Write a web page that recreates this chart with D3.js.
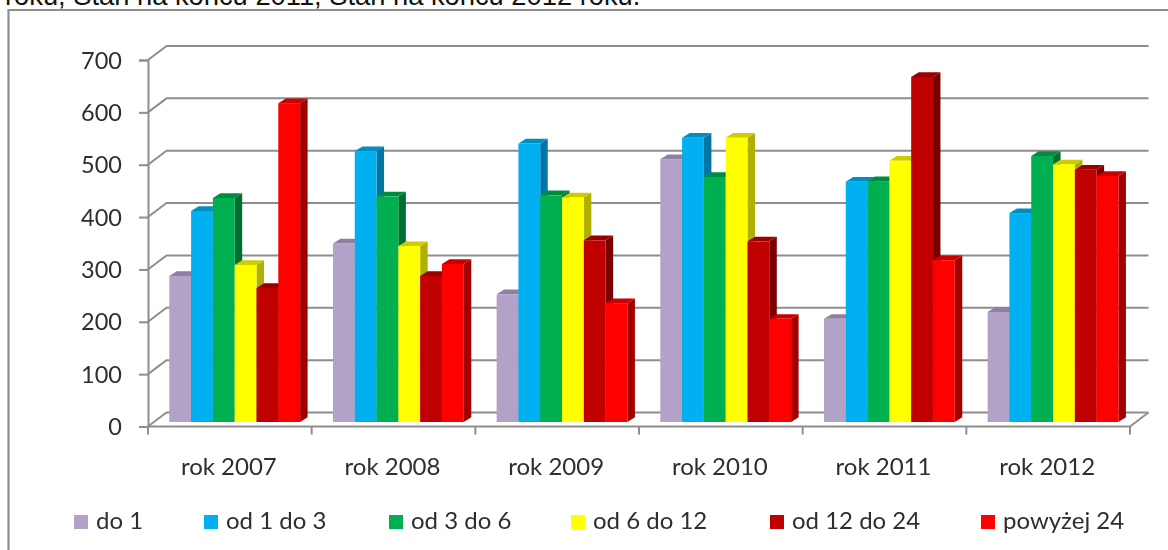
<!DOCTYPE html>
<html><head><meta charset="utf-8">
<script src="https://cdn.jsdelivr.net/npm/d3@7"></script>
<style>
html,body{margin:0;padding:0;background:#fff;overflow:hidden}
svg{display:block}
.t{font-family:"Lato","Open Sans",sans-serif;fill:#2e2e2e}
</style></head><body>
<svg id="c" width="1168" height="550"></svg>
<script>
const categories = ["rok 2007","rok 2008","rok 2009","rok 2010","rok 2011","rok 2012"];
const seriesNames = ["do 1","od 1 do 3","od 3 do 6","od 6 do 12","od 12 do 24","powyżej 24"];
const do1 = [279,341,244,502,197,210];
const od1do3 = [403,517,532,543,459,399];
const od3do6 = [428,431,433,468,460,508];
const od6do12 = [300,336,429,543,499,492];
const od12do24 = [256,279,347,345,659,482];
const powyzej24 = [609,302,227,197,309,470];
const seriesValues = [do1,od1do3,od3do6,od6do12,od12do24,powyzej24];
const frontColors = ["#B2A2C7","#00B0F0","#00B050","#FFFF00","#C00000","#FF0000"];
const topColors = ["#8E7FA3","#008DC0","#008C40","#CCCC00","#990000","#CC0000"];
const sideColors = ["#7D6F90","#0076A3","#006F33","#B0B000","#7A0000","#A30000"];
const yTicks = [0,100,200,300,400,500,600,700];
const titleText = "roku, Stan na końcu 2011, Stan na końcu 2012 roku.";
const legendSwatchX = [74,204,389,571,770,981];

const svg = d3.select("#c");
const gray = "#8e8e8e";
const y = d3.scaleLinear().domain([0,700]).range([426.5,60]);
const x = d3.scaleBand().domain(categories).range([148,1130]);
const inner = d3.scaleBand().domain(seriesNames).range([21.3,152.1]);
const wall = {dx:18.5,dy:-14};
const bar = {dx:7.5,dy:-4.7,lift:-4.5};

svg.append("text").attr("x",5).attr("y",5).attr("font-family","Liberation Sans, Arial, sans-serif")
  .attr("font-size",27.3).attr("fill","#111").text(titleText);

const root = svg.append("g").style("filter","blur(0.5px)");
root.append("path").attr("d","M1168,10H8.5V550").attr("fill","none").attr("stroke",gray).attr("stroke-width",2.2);

// back wall gridlines and wall diagonals
yTicks.forEach(v=>{
  const yy=y(v);
  root.append("path").attr("fill","none").attr("stroke",gray).attr("stroke-width",2)
    .attr("d",d3.line()([[148,yy],[148+wall.dx,yy+wall.dy],[1130+wall.dx,yy+wall.dy]]));
});
root.append("line").attr("x1",1130).attr("y1",y(0)).attr("x2",1130+wall.dx).attr("y2",y(0)+wall.dy)
  .attr("stroke",gray).attr("stroke-width",2);

// axes
const yAxis = d3.axisLeft(y).tickValues(yTicks).tickSize(9).tickPadding(16);
const gy = root.append("g").attr("transform","translate(148,0)").call(yAxis);
gy.selectAll("text").attr("class","t").attr("font-size",23.5).attr("dy",null)
  .attr("x",-26).attr("y",8);
const xAxis = d3.axisBottom(x).tickSize(0).tickPadding(0).tickFormat(d=>d);
const gx = root.append("g").attr("transform",`translate(0,${y(0)})`).call(xAxis);
gx.selectAll("text").attr("class","t").attr("font-size",24).attr("dy",null).attr("x",-1).attr("y",48);
const xTickPos = categories.map(c=>x(c)).concat([x.range()[1]]);
gx.selectAll("line.sep").data(xTickPos).join("line").attr("class","sep")
  .attr("x1",d=>d).attr("x2",d=>d).attr("y1",0).attr("y2",8);
root.selectAll(".domain,.tick line,.sep").attr("stroke",gray).attr("stroke-width",2).attr("fill","none");
gx.select(".domain").attr("d",`M148,0H1130`);
gx.selectAll(".tick line").remove();

// bars
const gBars = root.append("g");
categories.forEach((c,ci)=>{
  seriesNames.forEach((s,si)=>{
    const v = seriesValues[si][ci];
    const x0 = x(c)+inner(s), w = inner.bandwidth();
    const top = y(v)+bar.lift, bot = y(0)+bar.lift;
    const g = gBars.append("g");
    g.append("path").attr("fill",sideColors[si])
      .attr("d",d3.line()([[x0+w,top],[x0+w+bar.dx,top+bar.dy],[x0+w+bar.dx,bot+bar.dy],[x0+w,bot]])+"Z");
    g.append("path").attr("fill",topColors[si])
      .attr("d",d3.line()([[x0,top],[x0+bar.dx,top+bar.dy],[x0+w+bar.dx,top+bar.dy],[x0+w,top]])+"Z");
    g.append("rect").attr("x",x0).attr("y",top).attr("width",w).attr("height",bot-top).attr("fill",frontColors[si]);
  });
});

// legend
seriesNames.forEach((s,i)=>{
  root.append("rect").attr("x",legendSwatchX[i]).attr("y",515).attr("width",14).attr("height",14).attr("fill",frontColors[i]);
  root.append("text").attr("class","t").attr("x",legendSwatchX[i]+22).attr("y",529).attr("font-size",24).text(s);
});
</script></body></html>
